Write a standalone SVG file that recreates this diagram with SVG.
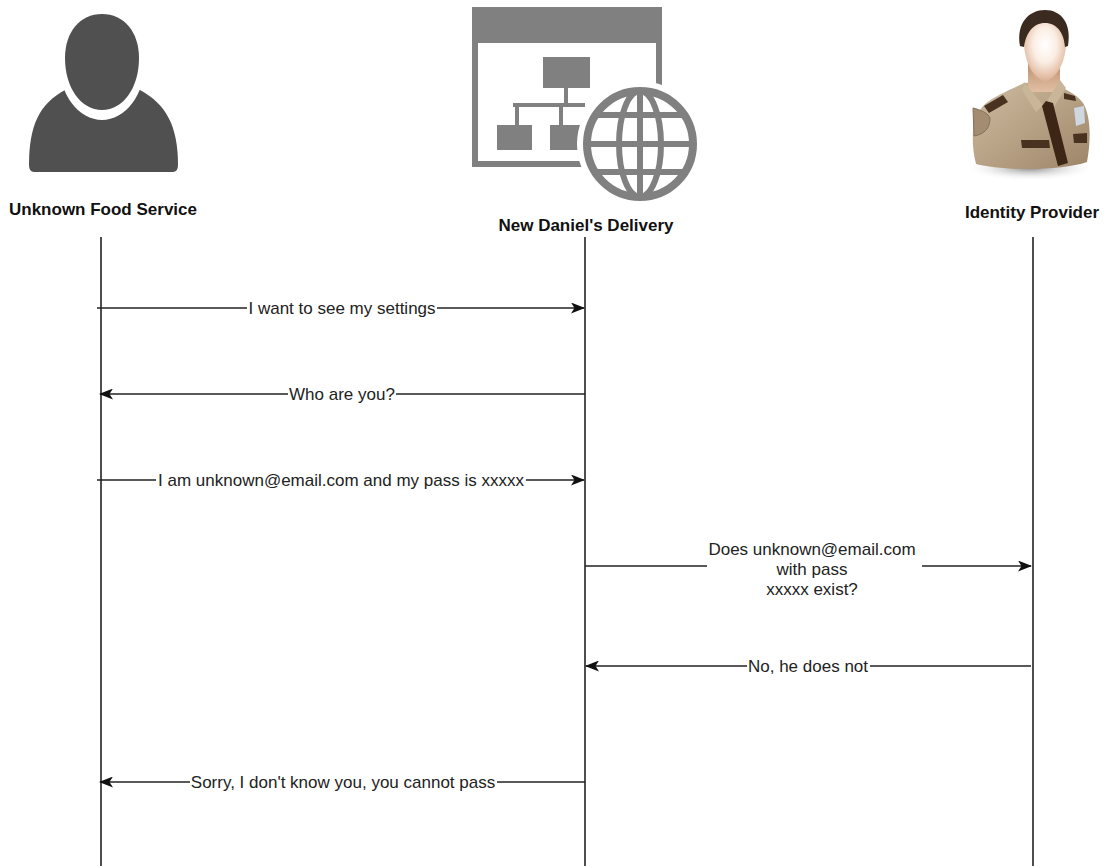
<svg xmlns="http://www.w3.org/2000/svg" width="1109" height="866" viewBox="0 0 1109 866">
  <style>
    .title { font-family: "Liberation Sans", Arial, sans-serif; font-size: 17px; font-weight: bold; fill: #111; text-anchor: middle; }
    .msg { font-family: "Liberation Sans", Arial, sans-serif; font-size: 17px; fill: #222; text-anchor: middle; }
    .life { stroke: #222; stroke-width: 1.6; fill: none; }
    .arrow { stroke: #222; stroke-width: 1.4; fill: none; marker-end: url(#head); }
    .gap { fill: #fff; }
    .web { fill: #808080; }
  </style>
  <defs>
    <marker id="head" viewBox="0 0 14 11" refX="13" refY="5.5" markerWidth="14" markerHeight="11" markerUnits="userSpaceOnUse" orient="auto">
      <path d="M0,0 L14,5.5 L0,11 L3.5,5.5 Z" fill="#111"/>
    </marker>
    <radialGradient id="face" cx="0.5" cy="0.42" r="0.62">
      <stop offset="0" stop-color="#ffffff"/>
      <stop offset="0.45" stop-color="#fbeee4"/>
      <stop offset="1" stop-color="#d9a98a"/>
    </radialGradient>
    <linearGradient id="shirt" x1="0" y1="0" x2="1" y2="1">
      <stop offset="0" stop-color="#cdbba2"/>
      <stop offset="0.5" stop-color="#b8a285"/>
      <stop offset="1" stop-color="#9c8467"/>
    </linearGradient>
    <linearGradient id="neck" x1="0" y1="0" x2="0" y2="1">
      <stop offset="0" stop-color="#b98c6c"/>
      <stop offset="1" stop-color="#e2bfa3"/>
    </linearGradient>
    <radialGradient id="shadow" cx="0.5" cy="0.5" r="0.5">
      <stop offset="0" stop-color="#8a8a8a"/>
      <stop offset="1" stop-color="#ffffff" stop-opacity="0"/>
    </radialGradient>
    <clipPath id="globeClip">
      <circle cx="640" cy="144" r="53"/>
    </clipPath>
  </defs>

  <!-- participant: user silhouette -->
  <g id="unknown-food-service">
    <path d="M34,172 L173,172 Q178,172 178,165 C178,126 166,104 140,90 L65,90 C39,104 29,126 29,165 Q29,172 34,172 Z" fill="#505050"/>
    <ellipse cx="102" cy="62" rx="43" ry="58" fill="#fff"/>
    <path d="M102,14 C124,14 139,32 139,58 C139,88 123,110 102,110 C81,110 65,88 65,58 C65,32 80,14 102,14 Z" fill="#505050"/>
    <text class="title" x="103" y="215">Unknown Food Service</text>
  </g>

  <!-- participant: web application -->
  <g id="new-daniels-delivery">
    <rect x="475" y="10" width="184" height="154" fill="none" stroke="#808080" stroke-width="6"/>
    <rect class="web" x="472" y="7" width="190" height="36"/>
    <rect class="web" x="543" y="57" width="47" height="31"/>
    <rect class="web" x="564" y="88" width="4" height="17"/>
    <rect class="web" x="513" y="103" width="72" height="4"/>
    <rect class="web" x="515" y="105" width="4" height="20"/>
    <rect class="web" x="559" y="105" width="4" height="20"/>
    <rect class="web" x="497" y="125" width="35" height="25"/>
    <rect class="web" x="550" y="125" width="30" height="25"/>
    <circle cx="640" cy="144" r="63" fill="#fff"/>
    <circle cx="640" cy="144" r="53" fill="none" stroke="#808080" stroke-width="8"/>
    <g clip-path="url(#globeClip)" stroke="#808080" stroke-width="6" fill="none">
      <ellipse cx="640" cy="144" rx="21" ry="53"/>
      <line x1="640" y1="88" x2="640" y2="200"/>
      <line x1="580" y1="115" x2="700" y2="115"/>
      <line x1="580" y1="144" x2="700" y2="144"/>
      <line x1="580" y1="172" x2="700" y2="172"/>
    </g>
    <text class="title" x="586" y="231">New Daniel's Delivery</text>
  </g>

  <!-- participant: security officer -->
  <g id="identity-provider">
    <ellipse cx="1030" cy="168" rx="66" ry="13" fill="url(#shadow)"/>
    <path d="M976,164 C970,140 972,116 985,104 C996,95 1010,90 1024,83 L1050,81 C1062,88 1076,93 1083,103 C1091,116 1091,140 1087,162 C1062,171 1002,171 976,164 Z" fill="url(#shirt)"/>
    <!-- neck -->
    <path d="M1028,60 L1060,60 L1060,92 L1028,92 Z" fill="url(#neck)"/>
    <!-- collar -->
    <path d="M1024,82 L1043,105 L1036,112 L1022,90 Z" fill="#c9b699"/>
    <path d="M1060,80 L1045,104 L1052,110 L1066,88 Z" fill="#c9b699"/>
    <!-- tie -->
    <path d="M1046,101 L1053,103 L1068,163 L1058,166 L1042,106 Z" fill="#3d2616"/>
    <!-- epaulets -->
    <path d="M984,106 L1003,95 L1008,102 L989,113 Z" fill="#4a3220"/>
    <path d="M1064,93 L1075,96 L1076,101 L1064,99 Z" fill="#4a3220"/>
    <!-- sleeve patch -->
    <path d="M973,108 C981,110 988,113 990,118 C990,128 985,134 974,136 Z" fill="#a48c70" stroke="#86705a" stroke-width="1"/>
    <!-- pocket flaps -->
    <path d="M1021,140 L1049,140 L1050,148 L1022,148 Z" fill="#4a3220"/>
    <path d="M1073,134 L1087,133 L1087,143 L1074,143 Z" fill="#4a3220"/>
    <!-- badge -->
    <path d="M1074,108 L1084,106 L1085,123 L1076,126 Z" fill="#cfd8e0"/>
    <!-- head: face and short hair -->
    <path d="M1024,42 C1024,27 1033,19 1045,19 C1058,19 1066,27 1066,42 C1066,61 1057,79 1045,81 C1033,79 1024,61 1024,42 Z" fill="url(#face)"/>
    <path d="M1020,46 C1016,23 1029,10 1045,10 C1061,10 1072,23 1068,46 L1065,47 C1064,33 1057,23 1045,23 C1033,23 1026,33 1024,47 Z" fill="#3a2a20"/>
    <text class="title" x="1032" y="218">Identity Provider</text>
  </g>

  <!-- lifelines and messages -->
  <g id="connectors">
    <line class="life" x1="101" y1="237" x2="101" y2="866"/>
    <line class="life" x1="585" y1="237" x2="585" y2="866"/>
    <line class="life" x1="1033" y1="237" x2="1033" y2="866"/>

    <line class="arrow" x1="97" y1="308" x2="584" y2="308"/>
    <rect class="gap" x="247" y="298" width="190" height="20"/>
    <text class="msg" x="342" y="314">I want to see my settings</text>

    <line class="arrow" x1="585" y1="394" x2="100" y2="394"/>
    <rect class="gap" x="288" y="384" width="108" height="20"/>
    <text class="msg" x="342" y="400">Who are you?</text>

    <line class="arrow" x1="97" y1="480" x2="584" y2="480"/>
    <rect class="gap" x="156" y="470" width="370" height="20"/>
    <text class="msg" x="341" y="486">I am unknown@email.com and my pass is xxxxx</text>

    <line class="arrow" x1="585" y1="566" x2="1031" y2="566"/>
    <rect class="gap" x="707" y="536" width="215" height="64"/>
    <text class="msg" x="812" y="555">Does unknown@email.com</text>
    <text class="msg" x="812" y="575">with pass</text>
    <text class="msg" x="812" y="595">xxxxx exist?</text>

    <line class="arrow" x1="1031" y1="666" x2="586" y2="666"/>
    <rect class="gap" x="747" y="656" width="123" height="20"/>
    <text class="msg" x="808" y="672">No, he does not</text>

    <line class="arrow" x1="585" y1="782" x2="100" y2="782"/>
    <rect class="gap" x="190" y="772" width="307" height="20"/>
    <text class="msg" x="343" y="788">Sorry, I don't know you, you cannot pass</text>
  </g>
</svg>
